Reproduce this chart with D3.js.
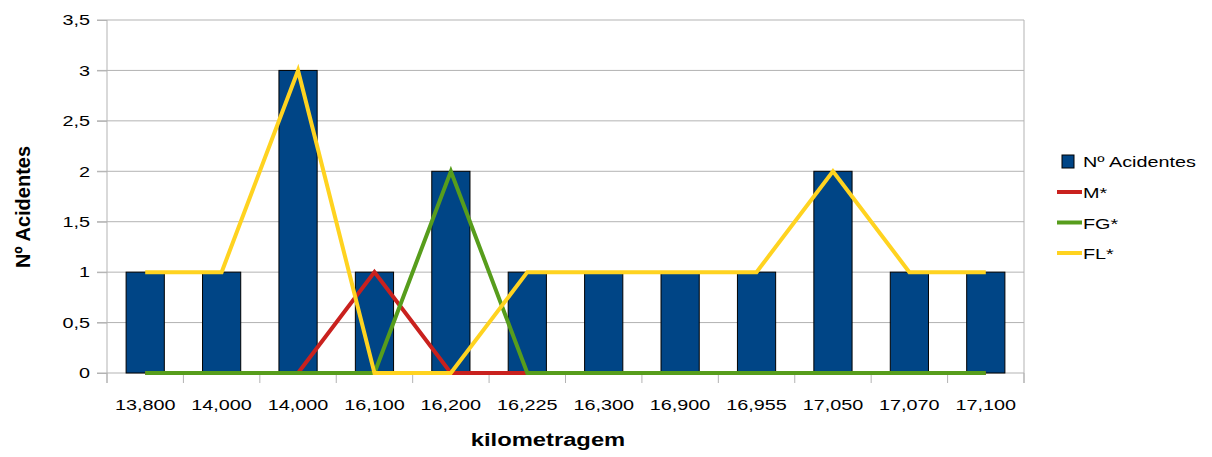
<!DOCTYPE html>
<meta charset="utf-8">
<style>
    body { margin: 0; background: #fff; }
    text { font-family: "Liberation Sans", Arial, sans-serif; fill: #000; }
    .grid line { stroke: #b3b3b3; stroke-width: 1px; }
    .serie { fill: none; stroke-width: 4px; }
</style>
<svg width="1212" height="457"></svg>
<script src="https://d3js.org/d3.v7.min.js"></script>
<script>

    var categorias = ["13,800", "14,000", "14,000", "16,100", "16,200", "16,225",
                      "16,300", "16,900", "16,955", "17,050", "17,070", "17,100"];
    var acidentes = [1, 1, 3, 1, 2, 1, 1, 1, 1, 2, 1, 1];
    var serieM  = [0, 0, 0, 1, 0, 0, 0, 0, 0, 0, 0, 0];
    var serieFG = [0, 0, 0, 0, 2, 0, 0, 0, 0, 0, 0, 0];
    var serieFL = [1, 1, 3, 0, 0, 1, 1, 1, 1, 2, 1, 1];
    var yTicks = [0, 0.5, 1, 1.5, 2, 2.5, 3, 3.5];

    var series = [
        {name: "M*", values: serieM, color: "#c9211e"},
        {name: "FG*", values: serieFG, color: "#579d1c"},
        {name: "FL*", values: serieFL, color: "#ffd320"}
    ];

    var svg = d3.select("svg"),
        margin = {top: 20, left: 107},
        width = 1024 - 107,
        height = 373 - 20;

    var stretch = 1.32; // the reference text is wider than plain Arial

    var locale = d3.formatLocale({decimal: ",", thousands: ".", grouping: [3], currency: ["", ""]});
    var fmt = locale.format("~g");

    var x = d3.scaleBand().domain(d3.range(categorias.length)).range([0, width]).padding(0),
        y = d3.scaleLinear().domain([0, 3.5]).range([height, 0]);

    var g = svg.append("g")
        .attr("transform", "translate(" + margin.left + "," + margin.top + ")");

    // horizontal grid + left ticks
    g.append("g")
        .attr("class", "grid")
        .selectAll("line")
        .data(yTicks)
        .enter().append("line")
        .attr("x1", -10)
        .attr("x2", width)
        .attr("y1", function(d) { return y(d); })
        .attr("y2", function(d) { return y(d); });

    // y axis
    var yAxis = g.append("g")
        .call(d3.axisLeft(y).tickValues(yTicks).tickFormat(fmt).tickSize(10).tickPadding(7));
    yAxis.select(".domain").attr("stroke", "#b3b3b3").attr("d", "M0,0V" + (height + 10));
    yAxis.selectAll(".tick line").attr("stroke", "#b3b3b3");
    yAxis.selectAll("text").style("font-size", "15px");

    // right border
    g.append("line")
        .attr("x1", width).attr("x2", width)
        .attr("y1", 0).attr("y2", height + 10)
        .attr("stroke", "#b3b3b3");

    // x axis ticks on band edges
    var edges = d3.range(categorias.length + 1);
    g.append("g")
        .selectAll("line")
        .data(edges)
        .enter().append("line")
        .attr("x1", function(d) { return d * x.step(); })
        .attr("x2", function(d) { return d * x.step(); })
        .attr("y1", height)
        .attr("y2", height + 10)
        .attr("stroke", "#b3b3b3");

    g.append("g")
        .selectAll("text")
        .data(categorias)
        .enter().append("text")
        .attr("class", "wide")
        .attr("x", function(d, i) { return x(i) + x.bandwidth() / 2; })
        .attr("y", height + 37)
        .attr("text-anchor", "middle")
        .style("font-size", "15px")
        .text(function(d) { return d; });

    // bars
    g.append("g")
        .selectAll("rect")
        .data(acidentes)
        .enter().append("rect")
        .attr("x", function(d, i) { return x(i) + x.bandwidth() / 4; })
        .attr("width", x.bandwidth() / 2)
        .attr("y", function(d) { return y(d); })
        .attr("height", function(d) { return height - y(d); })
        .attr("fill", "#004586")
        .attr("stroke", "#000")
        .attr("stroke-width", 1);

    var line = d3.line()
        .x(function(d, i) { return x(i) + x.bandwidth() / 2; })
        .y(function(d) { return y(d); });

    g.selectAll(".serie")
        .data(series)
        .enter().append("path")
        .attr("class", "serie")
        .attr("stroke", function(d) { return d.color; })
        .attr("d", function(d) { return line(d.values); });

    // axis titles
    svg.append("text")
        .attr("class", "wide")
        .attr("x", 548)
        .attr("y", 446)
        .attr("text-anchor", "middle")
        .style("font-size", "18px")
        .style("font-weight", "bold")
        .text("kilometragem");

    svg.append("text")
        .attr("transform", "translate(30,207) rotate(-90)")
        .attr("text-anchor", "middle")
        .style("font-size", "20px")
        .style("font-weight", "bold")
        .text("Nº Acidentes");

    // legend
    var legend = svg.append("g").attr("transform", "translate(1057,0)");
    legend.append("rect")
        .attr("x", 5).attr("y", 155)
        .attr("width", 12).attr("height", 13)
        .attr("fill", "#004586").attr("stroke", "#000");
    legend.append("text")
        .attr("class", "wide")
        .attr("x", 26).attr("y", 167)
        .style("font-size", "15px")
        .text("Nº Acidentes");

    var items = legend.selectAll(".item")
        .data(series)
        .enter().append("g")
        .attr("transform", function(d, i) { return "translate(0," + (192 + i * 30.5) + ")"; });
    items.append("line")
        .attr("x1", 0).attr("x2", 25)
        .attr("stroke-width", 4)
        .attr("stroke", function(d) { return d.color; });
    items.append("text")
        .attr("class", "wide")
        .attr("x", 26).attr("y", 6)
        .style("font-size", "15px")
        .text(function(d) { return d.name; });

    // widen horizontal texts
    svg.selectAll("text.wide, g.tick text").each(function() {
        var len = this.getComputedTextLength();
        d3.select(this)
            .attr("textLength", len * stretch)
            .attr("lengthAdjust", "spacingAndGlyphs");
    });

</script>
